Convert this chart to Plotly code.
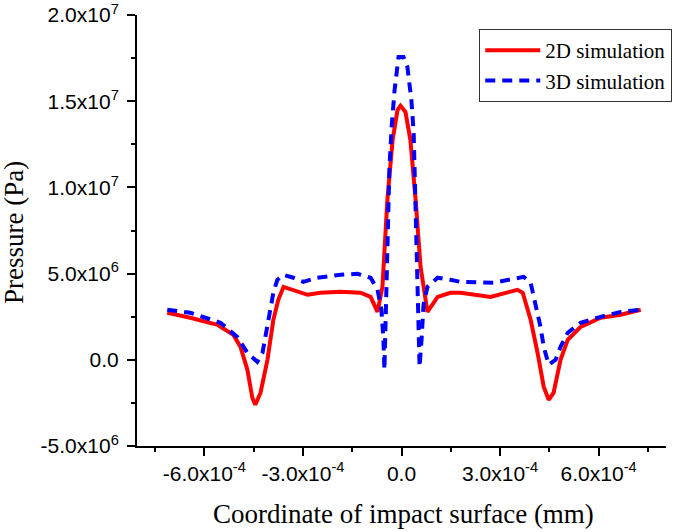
import plotly.graph_objects as go

# ---- data (x in mm, y in Pa) ----
x_2d = [-7.13, -6.43, -5.60, -5.12, -4.90, -4.69, -4.54, -4.45, -4.29, -4.08, -3.90, -3.75,
        -3.59, -3.29, -2.86, -2.47, -1.86, -1.25, -0.94, -0.73, -0.58, -0.43, -0.27, -0.12,
        -0.03, 0.12, 0.27, 0.43, 0.58, 0.79, 1.10, 1.49, 1.80, 2.71, 3.53, 3.69, 3.93, 4.14,
        4.33, 4.48, 4.63, 4.84, 5.06, 5.45, 6.06, 6.67, 7.28]
y_2d = [2.73, 2.44, 2.03, 1.45, 0.75, -0.58, -2.20, -2.61, -1.91, 0.0, 2.32, 3.48,
        4.23, 4.06, 3.77, 3.89, 3.94, 3.89, 3.65, 2.78, 4.23, 9.28, 12.76, 14.50,
        14.73, 14.38, 12.76, 9.28, 5.39, 2.78, 3.65, 3.89, 3.89, 3.65, 4.06, 3.89, 2.32, 0.41,
        -1.57, -2.32, -1.91, 0.0, 1.16, 1.91, 2.44, 2.61, 2.90]

x_3d = [-7.13, -6.43, -5.51, -5.00, -4.69, -4.39, -4.23, -4.08, -3.90, -3.78, -3.59, -3.29,
        -2.99, -2.56, -1.86, -1.34, -0.94, -0.73, -0.61, -0.55, -0.52, -0.49, -0.43, -0.37,
        -0.30, -0.21, -0.09, 0.06, 0.18, 0.30, 0.37, 0.43, 0.49, 0.52, 0.55, 0.61, 0.67,
        0.79, 1.10, 1.49, 1.80, 2.80, 3.32, 3.72, 3.93, 4.08, 4.23, 4.33, 4.48, 4.69, 4.84,
        5.06, 5.45, 6.06, 6.67, 7.28]
y_3d = [2.90, 2.73, 2.15, 1.33, 0.41, -0.12, 0.41, 1.91, 3.89, 4.64, 4.93, 4.76,
        4.52, 4.76, 4.93, 4.99, 4.76, 4.06, 2.90, 1.16, -0.58, 1.74, 6.96, 11.02,
        13.51, 15.66, 17.57, 17.57, 16.99, 15.08, 13.17, 9.28, 5.39, 1.57, -0.41, 1.16, 3.19,
        4.23, 4.76, 4.64, 4.52, 4.47, 4.64, 4.81, 4.47, 3.31, 1.91, 0.75, -0.29, 0.0, 0.75,
        1.57, 2.15, 2.49, 2.78, 2.90]

x_scale = 1e-4   # x values above are in units of 1e-4 mm
y_scale = 1e6    # y values above are in units of 1e6 Pa

x_tickvals = [-6e-4, -3e-4, 0.0, 3e-4, 6e-4]
x_ticktext = ["-6.0x10<sup>-4</sup>", "-3.0x10<sup>-4</sup>", "0.0",
              "3.0x10<sup>-4</sup>", "6.0x10<sup>-4</sup>"]
y_tickvals = [-5e6, 0.0, 5e6, 1e7, 1.5e7, 2e7]
y_ticktext = ["-5.0x10<sup>6</sup>", "0.0", "5.0x10<sup>6</sup>", "1.0x10<sup>7</sup>",
              "1.5x10<sup>7</sup>", "2.0x10<sup>7</sup>"]

series_names = ["2D simulation", "3D simulation"]

fig = go.Figure()
fig.add_trace(go.Scatter(
    x=[v * x_scale for v in x_2d], y=[v * y_scale for v in y_2d],
    mode="lines", name=series_names[0],
    line=dict(color="#FF0000", width=4)))
fig.add_trace(go.Scatter(
    x=[v * x_scale for v in x_3d], y=[v * y_scale for v in y_3d],
    mode="lines", name=series_names[1],
    line=dict(color="#0000FF", width=4, dash="10px,7px")))

tick_font = dict(family="Liberation Sans, Arial, sans-serif", size=21, color="#000")
title_font = dict(family="Liberation Serif, Times New Roman, serif", size=27, color="#000")

fig.update_xaxes(
    range=[-8.05e-4, 8.05e-4], showgrid=False, zeroline=False,
    showline=True, linecolor="#000", linewidth=2, automargin=False,
    tickmode="array", tickvals=x_tickvals, ticktext=x_ticktext,
    ticks="outside", ticklen=8, tickwidth=2, tickcolor="#000",
    tickfont=tick_font, ticklabeloverflow="allow",
    minor=dict(ticks="outside", ticklen=4, tickwidth=2, tickcolor="#000",
               dtick=1.5e-4, tick0=0, showgrid=False))
fig.update_yaxes(
    range=[-5e6, 2e7], showgrid=False, zeroline=False,
    showline=True, linecolor="#000", linewidth=2, automargin=False,
    tickmode="array", tickvals=y_tickvals, ticktext=y_ticktext,
    ticks="outside", ticklen=8, tickwidth=2, tickcolor="#000",
    tickfont=tick_font, ticklabeloverflow="allow", ticklabelstandoff=4,
    minor=dict(ticks="outside", ticklen=4, tickwidth=2, tickcolor="#000",
               dtick=2.5e6, tick0=0, showgrid=False))

fig.update_layout(
    width=685, height=532,
    margin=dict(l=137, r=19, t=15, b=86, autoexpand=False),
    paper_bgcolor="white", plot_bgcolor="white",
    showlegend=True,
    legend=dict(x=0.647, y=0.9675, xanchor="left", yanchor="top",
                bordercolor="#333", borderwidth=1, bgcolor="white",
                font=dict(family="Liberation Serif, Times New Roman, serif", size=21, color="#000"),
                itemwidth=55, tracegroupgap=0),
    annotations=[
        dict(text="Coordinate of impact surface (mm)", xref="paper", yref="paper",
             x=0.504, y=-0.158, xanchor="center", yanchor="middle",
             showarrow=False, font=title_font),
        dict(text="Pressure (Pa)", xref="paper", yref="paper",
             x=-0.2325, y=0.494, xanchor="center", yanchor="middle", textangle=-90,
             showarrow=False, font=title_font),
    ],
)

fig.write_html("out.html", config={"displayModeBar": False},
               post_script="document.body.style.margin='0';document.body.style.padding='0';")
